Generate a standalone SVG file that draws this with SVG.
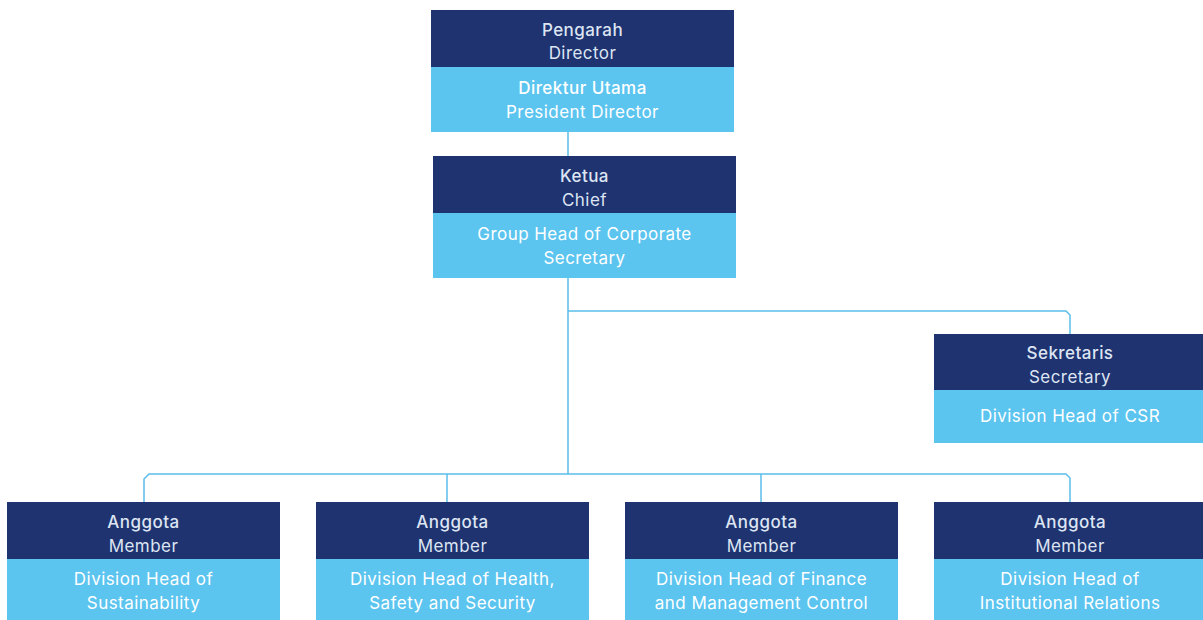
<svg xmlns="http://www.w3.org/2000/svg" width="1203" height="620" viewBox="0 0 1203 620">
<style>
.dk{fill:#1e3370}
.lt{fill:#5bc4ef}
text{font-family:Inter,"Noto Sans","Liberation Sans",sans-serif;font-size:17px;text-anchor:middle;letter-spacing:0.45px}
.t1{fill:#dde5f3;font-weight:500}
.t2{fill:#dde5f3;font-weight:400}
.w{fill:#ffffff;font-weight:400}
.wm{fill:#ffffff;font-weight:500}
.ln{fill:none;stroke:#5bbde9;stroke-width:1.5}
</style>
<rect width="1203" height="620" fill="#ffffff"/>
<g id="connectors">
<path class="ln" d="M568 132V156"/>
<path class="ln" d="M568 278V474"/>
<path class="ln" d="M568 311H1066L1070 315V334"/>
<path class="ln" d="M144 502V479L149 474H1066L1070 478V502"/>
<path class="ln" d="M447 474V502"/>
<path class="ln" d="M761 474V502"/>
</g>
<g id="director">
<rect class="dk" x="431" y="10" width="303" height="57"/>
<rect class="lt" x="431" y="67" width="303" height="65"/>
<text class="t1" x="582.5" y="36">Pengarah</text>
<text class="t2" x="582.5" y="59">Director</text>
<text class="wm" x="582.5" y="94">Direktur Utama</text>
<text class="w" x="582.5" y="118">President Director</text>
</g>
<g id="chief">
<rect class="dk" x="433" y="156" width="303" height="57"/>
<rect class="lt" x="433" y="213" width="303" height="65"/>
<text class="t1" x="584.5" y="182">Ketua</text>
<text class="t2" x="584.5" y="206">Chief</text>
<text class="w" x="584.5" y="240">Group Head of Corporate</text>
<text class="w" x="584.5" y="264">Secretary</text>
</g>
<g id="secretary">
<rect class="dk" x="934" y="334" width="273" height="56"/>
<rect class="lt" x="934" y="390" width="273" height="53"/>
<text class="t1" x="1070" y="359">Sekretaris</text>
<text class="t2" x="1070" y="383">Secretary</text>
<text class="w" x="1070" y="422">Division Head of CSR</text>
</g>
<g id="member1">
<rect class="dk" x="7" y="502" width="273" height="57"/>
<rect class="lt" x="7" y="559" width="273" height="61"/>
<text class="t1" x="143.5" y="528">Anggota</text>
<text class="t2" x="143.5" y="552">Member</text>
<text class="w" x="143.5" y="585">Division Head of</text>
<text class="w" x="143.5" y="609">Sustainability</text>
</g>
<g id="member2">
<rect class="dk" x="316" y="502" width="273" height="57"/>
<rect class="lt" x="316" y="559" width="273" height="61"/>
<text class="t1" x="452.5" y="528">Anggota</text>
<text class="t2" x="452.5" y="552">Member</text>
<text class="w" x="452.5" y="585">Division Head of Health,</text>
<text class="w" x="452.5" y="609">Safety and Security</text>
</g>
<g id="member3">
<rect class="dk" x="625" y="502" width="273" height="57"/>
<rect class="lt" x="625" y="559" width="273" height="61"/>
<text class="t1" x="761.5" y="528">Anggota</text>
<text class="t2" x="761.5" y="552">Member</text>
<text class="w" x="761.5" y="585">Division Head of Finance</text>
<text class="w" x="761.5" y="609">and Management Control</text>
</g>
<g id="member4">
<rect class="dk" x="934" y="502" width="273" height="57"/>
<rect class="lt" x="934" y="559" width="273" height="61"/>
<text class="t1" x="1070" y="528">Anggota</text>
<text class="t2" x="1070" y="552">Member</text>
<text class="w" x="1070" y="585">Division Head of</text>
<text class="w" x="1070" y="609">Institutional Relations</text>
</g>
</svg>
